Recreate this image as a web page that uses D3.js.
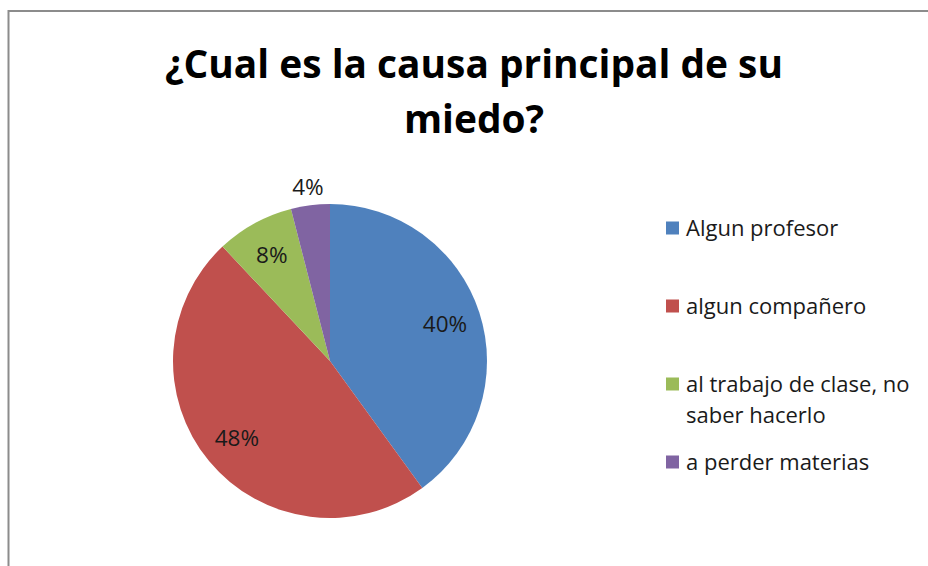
<!DOCTYPE html>
<html><head><meta charset="utf-8">
<script src="https://cdn.jsdelivr.net/npm/d3@7"></script>
<style>
html,body{margin:0;padding:0;background:#fff;}
svg{display:block;}
text{font-family:"Open Sans","DejaVu Sans",sans-serif;}
</style></head>
<body>
<svg id="chart" width="928" height="566"></svg>
<script>
const title = ["¿Cual es la causa principal de su", "miedo?"];
const categories = ["Algun profesor", "algun compañero", "al trabajo de clase, no saber hacerlo", "a perder materias"];
const values = [40, 48, 8, 4];
const colors = ["#4F81BD", "#C0504D", "#9BBB59", "#8064A2"];

const svg = d3.select("#chart");
const W = 928, H = 566;

// frame
svg.append("rect").attr("x", 0).attr("y", 0).attr("width", W).attr("height", H).attr("fill", "#fff");
svg.append("path").attr("d", `M8.5,${H} L8.5,11 L${W},11`).attr("fill", "none")
  .attr("stroke", "#8c8c8c").attr("stroke-width", 2);

// title
const tg = svg.append("g");
const t1 = tg.append("text").attr("x", 474).attr("y", 78).attr("text-anchor", "middle")
  .attr("font-weight", "bold").attr("font-size", 40).attr("fill", "#000").text(title[0]);
const len = t1.node().getComputedTextLength();
const fs = 40 * 618 / len;
t1.attr("font-size", fs);
tg.append("text").attr("x", 474).attr("y", 133).attr("text-anchor", "middle")
  .attr("font-weight", "bold").attr("font-size", fs).attr("fill", "#000").text(title[1]);

// pie
const cx = 330, cy = 361, r = 157;
const total = d3.sum(values);
const pie = d3.pie().sort(null).value(d => d)(values);
const arc = d3.arc().innerRadius(0).outerRadius(r);
const g = svg.append("g").attr("transform", `translate(${cx},${cy})`);
g.selectAll("path").data(pie).join("path")
  .attr("d", arc).attr("fill", (d, i) => colors[i]);

const inArc = d3.arc().innerRadius(r * 0.77).outerRadius(r * 0.77);
const outArc = d3.arc().innerRadius(r * 1.12).outerRadius(r * 1.12);
g.selectAll("text.lbl").data(pie).join("text").attr("class", "lbl")
  .attr("transform", d => {
    const c = (d.data / total < 0.05 ? outArc : inArc).centroid(d);
    return `translate(${c[0]},${c[1]})`;
  })
  .attr("text-anchor", "middle").attr("dy", "0.36em")
  .attr("font-size", 22.5).attr("fill", "#1a1a1a")
  .text(d => Math.round(d.data / total * 100) + "%");

// legend
const lg = svg.append("g");
const ly = d3.scaleLinear().domain([0, 1]).range([228, 306]);
const maxW = 232, lineH = 31;
categories.forEach((c, i) => {
  const y = ly(i);
  lg.append("rect").attr("x", 666).attr("y", y - 6.5).attr("width", 13).attr("height", 13).attr("fill", colors[i]);
  const t = lg.append("text").attr("font-size", 22).attr("fill", "#1a1a1a");
  const words = c.split(" ");
  let ln = 0;
  let line = [], ts = t.append("tspan").attr("x", 686).attr("y", y + 8);
  words.forEach(w => {
    line.push(w);
    ts.text(line.join(" "));
    if (ts.node().getComputedTextLength() > maxW && line.length > 1) {
      line.pop(); ts.text(line.join(" "));
      line = [w]; ln++;
      ts = t.append("tspan").attr("x", 686).attr("y", y + 8 + ln * lineH).text(w);
    }
  });
});
</script>
</body></html>
